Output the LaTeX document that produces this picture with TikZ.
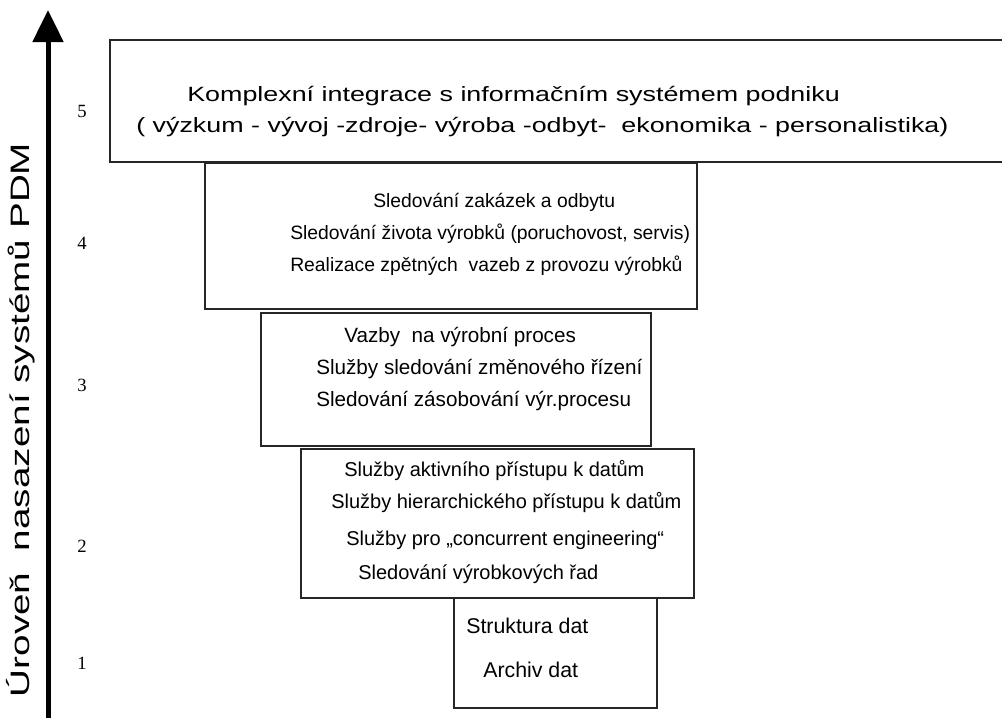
\documentclass[tikz,border=0pt]{standalone}
\usepackage{fontspec}
\setmainfont{Liberation Sans}
\newfontfamily\numfont{Liberation Serif}
\newfontfamily\widefont[FakeStretch=1.3]{Liberation Sans}
\newfontfamily\labelfont[FakeStretch=1.45]{Liberation Sans}
\usetikzlibrary{arrows.meta}
\tikzset{
  lvlbox/.style={draw=black!85, line width=1.1pt, inner sep=0pt},
  txt/.style={anchor=west, inner sep=0pt, font=\fontsize{15.5}{18}\selectfont},
  midtxt/.style={anchor=west, inner sep=0pt, font=\fontsize{15}{18}\selectfont},
  smalltxt/.style={anchor=west, inner sep=0pt, font=\fontsize{14.5}{17}\selectfont},
  basetxt/.style={anchor=west, inner sep=0pt, font=\fontsize{16}{18}\selectfont},
  bigtxt/.style={anchor=west, inner sep=0pt, font=\widefont\fontsize{15.5}{18}\selectfont},
  num/.style={inner sep=0pt, font=\numfont\fontsize{14}{16}\selectfont},
  axislabel/.style={rotate=90, inner sep=0pt, font=\labelfont\fontsize{20}{24}\selectfont}
}
\begin{document}
\begin{tikzpicture}[x=0.75pt,y=-0.75pt]
\useasboundingbox (0,0) rectangle (1002,718);
% axis
\coordinate (axb) at (48,718);
\coordinate (axt) at (48,10);
\draw[line width=3.75pt, -{Triangle[width=22.5pt,length=24pt]}] (axb) -- (axt);
\node[axislabel] (lab) at (21,420) {Úroveň \ nasazení systémů PDM};
% levels
\node[num] (n5) at (82,111) {5};
\node[num] (n4) at (82,243) {4};
\node[num] (n3) at (82,385) {3};
\node[num] (n2) at (82,546) {2};
\node[num] (n1) at (82,663) {1};
% boxes
\draw[lvlbox] (110,40) rectangle (1010,162);
\draw[lvlbox] (205,163) rectangle (697,309);
\draw[lvlbox] (261,313) rectangle (651,446);
\draw[lvlbox] (301,449) rectangle (694,598);
\draw[lvlbox] (454,598) rectangle (657,708);
% box 5
\node[bigtxt] (t51) at (187,96) {Komplexní integrace s informačním systémem podniku};
\node[bigtxt] (t52) at (136,127) {( výzkum - vývoj -zdroje- výroba -odbyt- \ ekonomika - personalistika)};
% box 4
\node[smalltxt] (t41) at (373,202) {Sledování zakázek a odbytu};
\node[smalltxt] (t42) at (290,234) {Sledování života výrobků (poruchovost, servis)};
\node[smalltxt] (t43) at (290,266) {Realizace zpětných \ vazeb z provozu výrobků};
% box 3
\node[txt] (t31) at (344,337) {Vazby \ na výrobní proces};
\node[txt] (t32) at (316,369) {Služby sledování změnového řízení};
\node[txt] (t33) at (316,401) {Sledování zásobování výr.procesu};
% box 2
\node[midtxt] (t21) at (344,471) {Služby aktivního přístupu k datům};
\node[midtxt] (t22) at (331,503) {Služby hierarchického přístupu k datům};
\node[midtxt] (t23) at (346,540) {Služby pro „concurrent engineering“};
\node[midtxt] (t24) at (358,574) {Sledování výrobkových řad};
% box 1
\node[basetxt] (t11) at (466,626) {Struktura dat};
\node[basetxt] (t12) at (483,670) {Archiv dat};
\end{tikzpicture}
\end{document}
